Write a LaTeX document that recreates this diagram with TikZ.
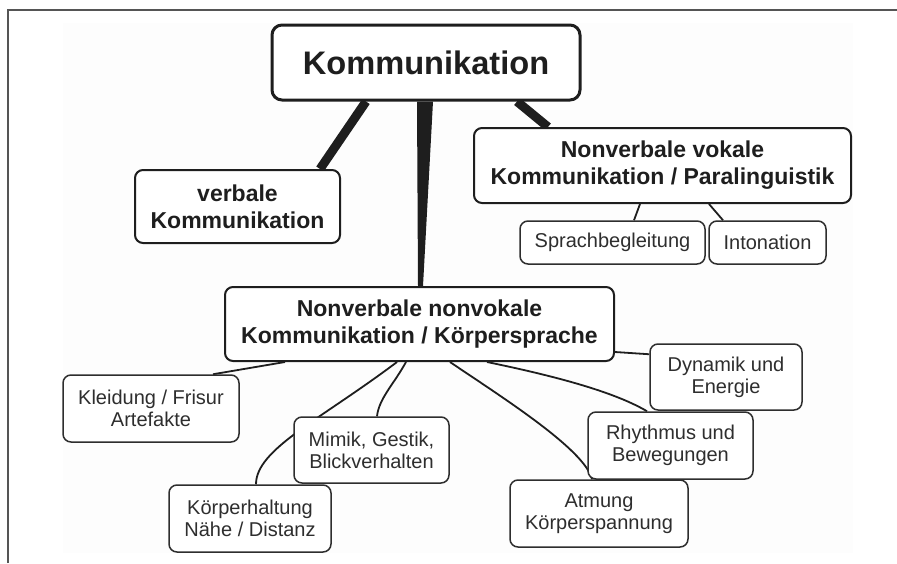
\documentclass[tikz,border=0pt]{standalone}
\usepackage{fontspec}
\setmainfont{Liberation Sans}
\usetikzlibrary{calc,backgrounds}
\definecolor{ink}{HTML}{1E1E1E}
\definecolor{leafink}{HTML}{2E2E2E}
\definecolor{framegray}{HTML}{555555}
\definecolor{panel}{HTML}{FDFDFD}
\begin{document}
\begin{tikzpicture}[x=1pt,y=-1pt,
  box/.style={draw=ink, fill=white, rounded corners=8pt, align=center, inner sep=0pt, text=ink},
  rootbox/.style={box, line width=3pt, rounded corners=10pt, font=\fontsize{32.6}{36}\selectfont\bfseries},
  midbox/.style={box, line width=2pt, font=\fontsize{23}{27}\selectfont\bfseries},
  leafbox/.style={box, line width=1.5pt, draw=leafink, text=leafink, font=\fontsize{20}{22}\selectfont},
  trunk/.style={line width=9pt, draw=ink},
  twig/.style={line width=1.8pt, draw=ink},
]
\useasboundingbox (0,0) rectangle (897,563);

% boxes
\node[rootbox, minimum width=308pt, minimum height=75pt] (komm) at (426,62.5) {Kommunikation};
\node[midbox, minimum width=205pt, minimum height=73pt] (verb) at (237.5,206.5) {verbale\\Kommunikation};
\node[midbox, minimum width=377pt, minimum height=75pt] (vok) at (662.5,165.5) {Nonverbale vokale\\Kommunikation / Paralinguistik};
\node[leafbox, minimum width=185pt, minimum height=43pt] (sprach) at (612.5,242.5) {Sprachbegleitung};
\node[leafbox, minimum width=117pt, minimum height=43pt] (inton) at (767.5,242.5) {Intonation};
\node[midbox, minimum width=389pt, minimum height=74pt] (nonvok) at (419.5,324) {Nonverbale nonvokale\\Kommunikation / Körpersprache};
\node[leafbox, minimum width=176pt, minimum height=67pt] (kleid) at (151,408.5) {Kleidung / Frisur\\Artefakte};
\node[leafbox, minimum width=155pt, minimum height=66pt] (mimik) at (371.5,450) {Mimik, Gestik,\\Blickverhalten};
\node[leafbox, minimum width=162pt, minimum height=67pt] (koerper) at (250,518.5) {Körperhaltung\\Nähe / Distanz};
\node[leafbox, minimum width=152pt, minimum height=66pt] (dyn) at (726,377) {Dynamik und\\Energie};
\node[leafbox, minimum width=165pt, minimum height=67pt] (rhyth) at (670.5,445.5) {Rhythmus und\\Bewegungen};
\node[leafbox, minimum width=178pt, minimum height=67pt] (atm) at (599,513.5) {Atmung\\Körperspannung};

\begin{pgfonlayer}{background}
  % frame and panel
  \fill[panel] (63,23) rectangle (853,553);
  \draw[framegray, line width=1.6pt] (8,563) -- (8,10) -- (897,10);
  % main branches
  \draw[trunk] ([xshift=-60pt]komm.south) -- ([xshift=82.5pt]verb.north);
  \draw[trunk] ([xshift=91pt]komm.south) -- ([xshift=-114.5pt]vok.north);
  \fill[ink] ([xshift=-9pt]komm.south) -- ([xshift=7pt]komm.south)
        -- ([xshift=3.5pt]nonvok.north) -- ([xshift=-1.5pt]nonvok.north) -- cycle;
  % paralinguistic leaves
  \draw[twig] ([xshift=-22.5pt]vok.south) -- ([xshift=21.5pt]sprach.north);
  \draw[twig] ([xshift=46.5pt]vok.south) -- ([xshift=-44.5pt]inton.north);
  % body language leaves
  \draw[twig] ([xshift=-134.5pt]nonvok.south) -- ([xshift=62pt]kleid.north);
  \draw[twig] ([xshift=-13.5pt]nonvok.south) .. controls +(-12,22) and +(2,-18) .. ([xshift=5.5pt]mimik.north);
  \draw[twig] ([xshift=-22.5pt]nonvok.south) .. controls +(-77,58) and +(0,-35) .. ([xshift=6pt]koerper.north);
  \draw[twig] ($(nonvok.south east)+(0,-10)$) -- ($(dyn.north west)+(0,11)$);
  \draw[twig] ([xshift=67.5pt]nonvok.south) .. controls +(53,11) and +(-37,-22) .. ([xshift=-23.5pt]rhyth.north);
  \draw[twig] ([xshift=30.5pt]nonvok.south) .. controls +(50,34) and +(-7,-30) .. ([xshift=-7pt]atm.north);
\end{pgfonlayer}
\end{tikzpicture}
\end{document}
